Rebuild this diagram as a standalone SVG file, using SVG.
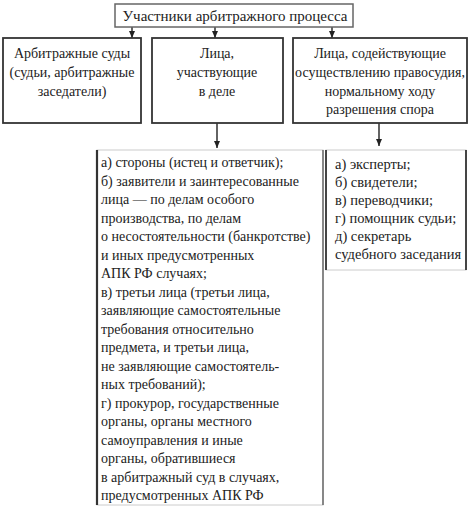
<svg xmlns="http://www.w3.org/2000/svg" width="470" height="510" viewBox="0 0 470 510">
<defs>
<marker id="ah" markerWidth="8" markerHeight="8" refX="7" refY="4" orient="auto" markerUnits="userSpaceOnUse">
<path d="M0,1 L7,4 L0,7 Z" fill="#222"/>
</marker>
<style>
text{font-family:'Liberation Serif','Times New Roman',serif;font-size:14px;fill:#222}
.c{text-anchor:middle}
.box{fill:#fff;stroke:#333;stroke-width:1.8}
.top{fill:#fff;stroke:#666;stroke-width:1.5}
.lite{fill:#fff;stroke:#ccc;stroke-width:1}
.edge{stroke:#333;stroke-width:1.8;fill:none}
.con{stroke:#222;stroke-width:1.4;fill:none;marker-end:url(#ah)}
</style>
</defs>
<rect width="470" height="510" fill="#fff"/>
<g id="connectors">
<line class="con" x1="132" y1="27" x2="132" y2="38"/>
<line class="con" x1="215" y1="27" x2="215" y2="38"/>
<line class="con" x1="332" y1="27" x2="332" y2="38"/>
<line class="con" x1="217" y1="123" x2="217" y2="148"/>
<line class="con" x1="379" y1="123" x2="379" y2="146"/>
</g>
<g id="n-root">
<rect class="top" x="115" y="4" width="238" height="23"/>
<text class="c" x="235" y="21" style="font-size:15px">Участники арбитражного процесса</text>
</g>
<g id="n-courts">
<rect class="box" x="3" y="38" width="138" height="85"/>
<text class="c" x="72" y="58">Арбитражные суды</text>
<text class="c" x="72" y="77">(судьи, арбитражные</text>
<text class="c" x="72" y="96">заседатели)</text>
</g>
<g id="n-persons">
<rect class="box" x="152" y="38" width="131" height="85"/>
<text class="c" x="217" y="58">Лица,</text>
<text class="c" x="217" y="77">участвующие</text>
<text class="c" x="217" y="96">в деле</text>
</g>
<g id="n-assist">
<rect class="box" x="293" y="38" width="174" height="85"/>
<text class="c" x="380" y="58">Лица, содействующие</text>
<text class="c" x="380" y="77">осуществлению правосудия,</text>
<text class="c" x="380" y="96">нормальному ходу</text>
<text class="c" x="380" y="114">разрешения спора</text>
</g>
<g id="n-persons-list">
<rect class="lite" x="97" y="150" width="226" height="355"/>
<line class="edge" x1="97" y1="150" x2="97" y2="505" style="stroke-width:2.2"/>
<line class="edge" x1="323" y1="150" x2="323" y2="505" style="stroke:#555;stroke-width:1.3"/>
<text x="101" y="167">а) стороны (истец и ответчик);</text>
<text x="101" y="185.5">б) заявители и заинтересованные</text>
<text x="101" y="204">лица — по делам особого</text>
<text x="101" y="222.5">производства, по делам</text>
<text x="101" y="241">о несостоятельности (банкротстве)</text>
<text x="101" y="259.5">и иных предусмотренных</text>
<text x="101" y="278">АПК РФ случаях;</text>
<text x="101" y="296.5">в) третьи лица (третьи лица,</text>
<text x="101" y="315">заявляющие самостоятельные</text>
<text x="101" y="333.5">требования относительно</text>
<text x="101" y="352">предмета, и третьи лица,</text>
<text x="101" y="370.5">не заявляющие самостоятель-</text>
<text x="101" y="389">ных требований);</text>
<text x="101" y="407.5">г) прокурор, государственные</text>
<text x="101" y="426">органы, органы местного</text>
<text x="101" y="444.5">самоуправления и иные</text>
<text x="101" y="463">органы, обратившиеся</text>
<text x="101" y="481.5">в арбитражный суд в случаях,</text>
<text x="101" y="500">предусмотренных АПК РФ</text>
</g>
<g id="n-assist-list">
<rect class="lite" x="326" y="150" width="140" height="120"/>
<line class="edge" x1="326" y1="150" x2="326" y2="270"/>
<line class="edge" x1="466" y1="150" x2="466" y2="270"/>
<text x="335" y="169" style="font-size:14.5px">а) эксперты;</text>
<text x="335" y="187" style="font-size:14.5px">б) свидетели;</text>
<text x="335" y="205" style="font-size:14.5px">в) переводчики;</text>
<text x="335" y="223" style="font-size:14.5px">г) помощник судьи;</text>
<text x="335" y="241" style="font-size:14.5px">д) секретарь</text>
<text x="335" y="259" style="font-size:14.5px">судебного заседания</text>
</g>
</svg>
